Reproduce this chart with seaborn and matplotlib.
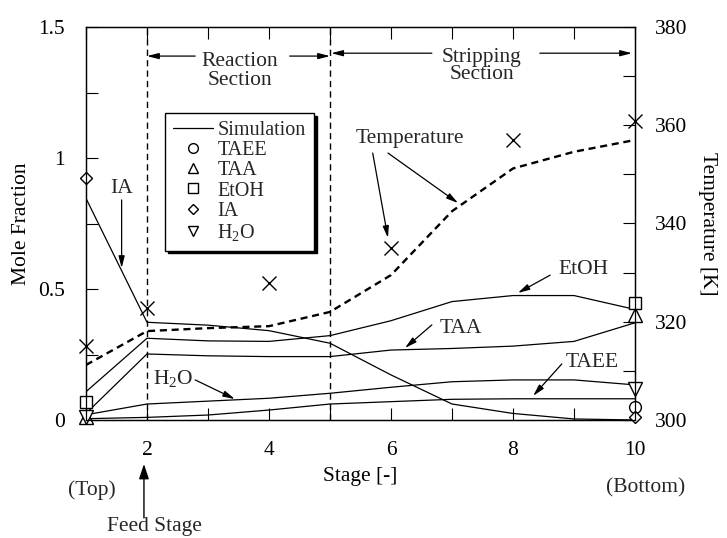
import numpy as np
import pandas as pd
import matplotlib
matplotlib.use("Agg")
import matplotlib.pyplot as plt
import seaborn as sns
from matplotlib.lines import Line2D
from matplotlib.ticker import MultipleLocator, FixedLocator

# ---------------- data ----------------
STAGES = [1, 2, 3, 4, 5, 6, 7, 8, 9, 10]
TAEE_SIM = [0.005, 0.010, 0.019, 0.038, 0.061, 0.070, 0.079, 0.081, 0.081, 0.081]
TAA_SIM = [0.025, 0.252, 0.245, 0.242, 0.242, 0.267, 0.273, 0.282, 0.300, 0.371]
ETOH_SIM = [0.108, 0.312, 0.302, 0.300, 0.322, 0.379, 0.452, 0.475, 0.475, 0.422]
IA_SIM = [0.846, 0.373, 0.362, 0.341, 0.293, 0.172, 0.061, 0.025, 0.004, 0.0]
H2O_SIM = [0.020, 0.061, 0.072, 0.083, 0.102, 0.125, 0.146, 0.153, 0.153, 0.134]
TEMP_SIM = [311.2, 318.1, 318.7, 319.1, 322.0, 329.5, 342.5, 351.2, 354.6, 357.0]

TAEE_EXP_STAGES = [10]
TAEE_EXP = [0.048]
TAA_EXP_STAGES = [1, 10]
TAA_EXP = [0.012, 0.400]
ETOH_EXP_STAGES = [1, 10]
ETOH_EXP = [0.070, 0.445]
IA_EXP_STAGES = [1, 10]
IA_EXP = [0.922, 0.013]
H2O_EXP_STAGES = [1, 10]
H2O_EXP = [0.012, 0.117]
TEMP_EXP_STAGES = [1, 2, 4, 6, 8, 10]
TEMP_EXP = [315.1, 322.9, 327.9, 335.0, 357.0, 360.9]

X_TICKS = [2, 4, 6, 8, 10]
Y_TICKS = [0, 0.5, 1, 1.5]
Y_TICK_LABELS = ["0", "0.5", "1", "1.5"]
T_TICKS = [300, 320, 340, 360, 380]
SECTION_BOUNDS = [2, 5]

# ---------------- style ----------------
sns.set_style("ticks")
plt.rcParams["font.family"] = ["Liberation Serif", "DejaVu Serif"]
plt.rcParams["mathtext.fontset"] = "custom"
plt.rcParams["mathtext.rm"] = "Liberation Serif"
plt.rcParams["mathtext.it"] = "Liberation Serif:italic"
plt.rcParams["mathtext.default"] = "rm"
FS = 15.5

fig = plt.figure(figsize=(7.27, 5.38), dpi=100)
pos = [86 / 727, 1 - 420 / 538, 549 / 727, 393 / 538]
ax = fig.add_axes(pos)
ax2 = ax.twinx()
ax.set_position(pos)
ax2.set_position(pos)

LW = 0.9
for ys in [TAEE_SIM, TAA_SIM, ETOH_SIM, IA_SIM, H2O_SIM]:
    sns.lineplot(x=STAGES, y=ys, ax=ax, color="k", lw=LW)

for xs in SECTION_BOUNDS:
    ax.axvline(xs, color="k", lw=1.0, ls=(0, (4.5, 3)))

mk = dict(ls="none", mfc="white", mec="k", mew=1.0, clip_on=False, zorder=5)
ax.plot(TAEE_EXP_STAGES, TAEE_EXP, marker="o", ms=8.5, **mk)
ax.plot(TAA_EXP_STAGES, TAA_EXP, marker="^", ms=9.5, **mk)
ax.plot(ETOH_EXP_STAGES, ETOH_EXP, marker="s", ms=8.5, **mk)
ax.plot(IA_EXP_STAGES, IA_EXP, marker="D", ms=6.5, **mk)
ax.plot(H2O_EXP_STAGES, H2O_EXP, marker="v", ms=9.5, **mk)

# temperature
sns.lineplot(x=STAGES, y=TEMP_SIM, ax=ax2, color="k", lw=1.7, ls=(0, (3, 2)))
ax2.plot(TEMP_EXP_STAGES, TEMP_EXP, ls="none", marker="x", ms=9.5, mew=1.0,
         color="k", clip_on=False, zorder=5)

ax.set_xlim(1, 10)
ax.set_ylim(0, 1.5)
ax2.set_ylim(300, 380)

ax.set_xticks(X_TICKS)
ax.set_xticklabels([str(v) for v in X_TICKS], fontsize=FS)
ax.xaxis.set_minor_locator(FixedLocator([1, 3, 5, 7, 9]))
ax.set_yticks(Y_TICKS)
ax.set_yticklabels(Y_TICK_LABELS, fontsize=FS)
ax.yaxis.set_minor_locator(MultipleLocator(0.25))
ax2.set_yticks(T_TICKS)
ax2.set_yticklabels([str(v) for v in T_TICKS], fontsize=FS)
ax2.yaxis.set_minor_locator(MultipleLocator(10))

tk = dict(direction="in", length=8.5, width=0.8, color="k")
ax.tick_params(axis="x", which="both", top=True, bottom=True, pad=15, **tk)
ax.tick_params(axis="y", which="both", left=True, right=False, pad=15, **tk)
ax2.tick_params(axis="y", which="both", right=True, left=False, pad=14, **tk)
ax.tick_params(axis="both", labelcolor="k")
ax2.tick_params(axis="both", labelcolor="k")

for a in (ax, ax2):
    for s in a.spines.values():
        s.set_visible(True)
        s.set_linewidth(0.9)
        s.set_color("k")

ax.set_xlabel("Stage [-]", fontsize=FS, labelpad=5, color="k")
ax.set_ylabel("Mole Fraction", fontsize=FS, labelpad=5, color="k")
ax2.set_ylabel("Temperature [K]", fontsize=FS, labelpad=8, rotation=270,
               va="bottom", color="k")

# legend
LFS = 14.5
handles = [
    Line2D([0], [0], color="k", lw=LW, label="Simulation"),
    Line2D([0], [0], marker="o", ms=7, ls="none", mfc="white", mec="k", label="TAEE"),
    Line2D([0], [0], marker="^", ms=7.5, ls="none", mfc="white", mec="k", label="TAA"),
    Line2D([0], [0], marker="s", ms=6.5, ls="none", mfc="white", mec="k", label="EtOH"),
    Line2D([0], [0], marker="D", ms=5, ls="none", mfc="white", mec="k", label="IA"),
    Line2D([0], [0], marker="v", ms=7.5, ls="none", mfc="white", mec="k", label=r"H$_2$O"),
]
leg = ax2.legend(handles=handles, loc="upper left", bbox_to_anchor=(0.144, 0.781),
                 borderaxespad=0, fontsize=LFS, frameon=True, fancybox=False,
                 shadow={"color": "black", "alpha": 1.0}, edgecolor="k",
                 framealpha=1, handlelength=2.0, handletextpad=0.2,
                 labelspacing=0.05, borderpad=0.4)
leg.get_frame().set_linewidth(1.0)

# section annotations
ap = dict(arrowstyle="-|>,head_length=0.7,head_width=0.18", color="k", lw=0.9,
          shrinkA=0, shrinkB=0)
ax.text(3.52, 1.332, "Reaction\nSection", ha="center", va="center",
        fontsize=FS, linespacing=1.0)
ax.annotate("", xy=(2.0, 1.389), xytext=(2.79, 1.389), arrowprops=ap)
ax.annotate("", xy=(5.0, 1.389), xytext=(4.34, 1.389), arrowprops=ap)
ax.text(7.49, 1.351, "Stripping\nSection", ha="center", va="center",
        fontsize=FS, linespacing=0.85)
ax.annotate("", xy=(5.02, 1.40), xytext=(6.67, 1.40), arrowprops=ap)
ax.annotate("", xy=(9.95, 1.40), xytext=(8.44, 1.40), arrowprops=ap)

# curve labels
ax.text(1.59, 0.882, "IA", ha="center", va="center", fontsize=FS)
ax.annotate("", xy=(1.584, 0.58), xytext=(1.584, 0.84), arrowprops=ap)
ax.text(6.31, 1.073, "Temperature", ha="center", va="center", fontsize=FS)
ax.annotate("", xy=(5.95, 0.695), xytext=(5.70, 1.019), arrowprops=ap)
ax.annotate("", xy=(7.10, 0.828), xytext=(5.95, 1.019), arrowprops=ap)
ax.text(9.15, 0.573, "EtOH", ha="center", va="center", fontsize=FS)
ax.annotate("", xy=(8.08, 0.485), xytext=(8.61, 0.553), arrowprops=ap)
ax.text(7.15, 0.351, "TAA", ha="center", va="center", fontsize=FS)
ax.annotate("", xy=(6.23, 0.275), xytext=(6.67, 0.363), arrowprops=ap)
ax.text(9.30, 0.221, "TAEE", ha="center", va="center", fontsize=FS)
ax.annotate("", xy=(8.33, 0.092), xytext=(8.80, 0.214), arrowprops=ap)
ax.text(2.43, 0.160, r"H$_2$O", ha="center", va="center", fontsize=FS)
ax.annotate("", xy=(3.44, 0.080), xytext=(2.79, 0.153), arrowprops=ap)

# below-axis texts
fig.text(92 / 727, 1 - 490 / 538, "(Top)", ha="center", va="center", fontsize=FS)
fig.text(646 / 727, 1 - 488 / 538, "(Bottom)", ha="center", va="center", fontsize=FS)
fig.text(154 / 727, 1 - 527 / 538, "Feed Stage", ha="center", va="center", fontsize=FS)
ax.annotate("", xy=(1.95, -0.168), xytext=(1.95, -0.374), annotation_clip=False,
            arrowprops=dict(arrowstyle="-|>,head_length=0.9,head_width=0.3",
                            color="k", lw=1.0, shrinkA=0, shrinkB=0))

fig.savefig("out.png", dpi=100, facecolor="white")
